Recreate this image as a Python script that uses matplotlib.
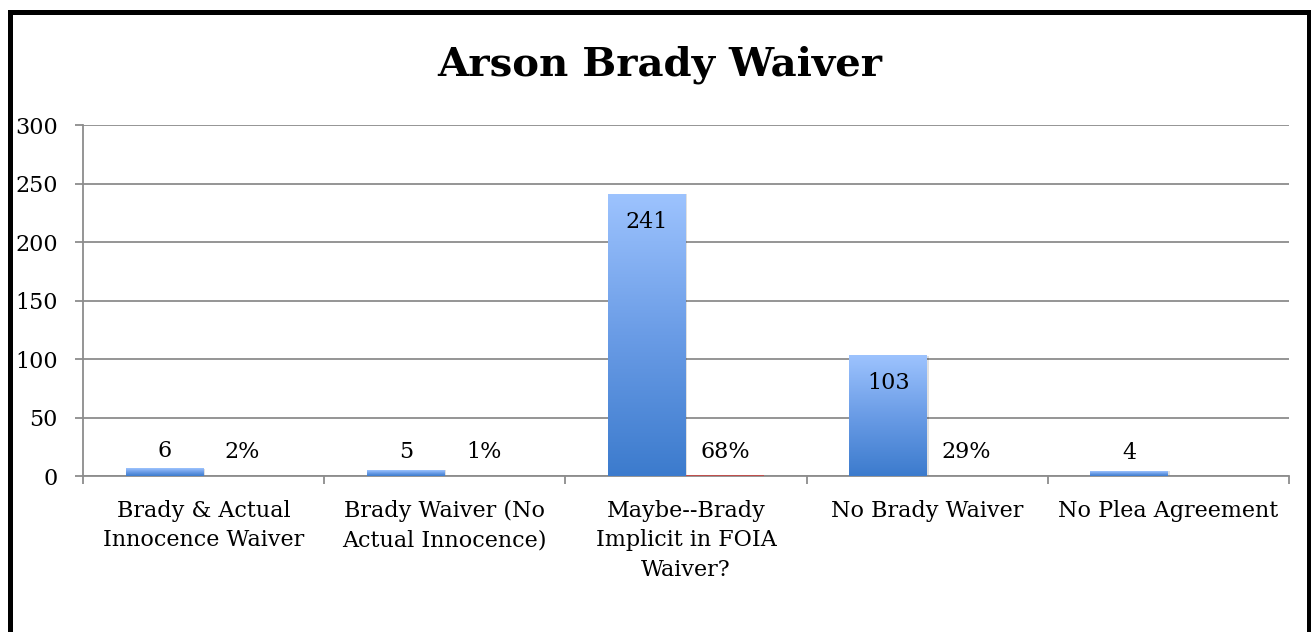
import numpy as np
import matplotlib
matplotlib.use("Agg")
import matplotlib.pyplot as plt
from matplotlib.colors import LinearSegmentedColormap
from matplotlib.patches import Rectangle

# Data
categories = ["Brady & Actual\nInnocence Waiver", "Brady Waiver (No\nActual Innocence)",
              "Maybe--Brady\nImplicit in FOIA\nWaiver?", "No Brady Waiver", "No Plea Agreement"]
counts = [6, 5, 241, 103, 4]
shares = [0.02, 0.01, 0.68, 0.29, None]
title = "Arson Brady Waiver"
yticks = [0, 50, 100, 150, 200, 250, 300]

plt.rcParams['font.family'] = ['DejaVu Serif']
grid_col = '#8c8c8c'

fig = plt.figure(figsize=(13.11, 6.32), dpi=100)
ax = fig.add_axes([0.0633, 0.2468, 0.9199, 0.5554])

x = np.arange(len(categories))
w = 0.323

# gradient-filled columns (light on top, darker at the base)
cmap = LinearSegmentedColormap.from_list("blu", ["#3c7bcd", "#6a9ce6", "#9dc3fe"])
grad = np.linspace(0, 1, 256).reshape(-1, 1)
for xi, v in zip(x, counts):
    ax.add_patch(Rectangle((xi - w + 0.006, 0), w, v, facecolor='#000000', alpha=0.12,
                           edgecolor='none', zorder=2))
    ax.imshow(grad, cmap=cmap, origin='lower', aspect='auto',
              extent=(xi - w, xi, 0, v), zorder=3)

# second series (share), practically flat
pct_vals = [s if s is not None else 0 for s in shares]
ax.bar(x + w / 2, pct_vals, w, color='#c0504d', zorder=3)

# labels
for xi, v in zip(x, counts):
    if v > 30:
        ax.annotate(str(v), (xi - w / 2, v), xytext=(0, -20), textcoords='offset points',
                    ha='center', va='center', fontsize=16, zorder=5)
    else:
        ax.annotate(str(v), (xi - w / 2, v), xytext=(0, 13), textcoords='offset points',
                    ha='center', va='center', fontsize=16, zorder=5)
for xi, s in zip(x, shares):
    if s is None:
        continue
    ax.annotate(f"{s:.0%}", (xi + w / 2, s), xytext=(0, 17), textcoords='offset points',
                ha='center', va='center', fontsize=16, zorder=5)

ax.set_xlim(-0.5, len(categories) - 0.5)
ax.set_ylim(0, 300)
ax.set_yticks(yticks)
ax.set_yticklabels([str(t) for t in yticks], fontsize=16)
ax.set_xticks(x)
ax.set_xticklabels(categories, fontsize=16, linespacing=1.45, va='top')
ax.set_xticks(np.arange(-0.5, len(categories)), minor=True)
ax.tick_params(axis='x', which='major', length=0, pad=17)
ax.tick_params(axis='x', which='minor', length=6, width=1.3, color=grid_col)
ax.tick_params(axis='y', length=6, width=1.3, color=grid_col, pad=12)

ax.yaxis.grid(True, color=grid_col, linewidth=1.3, zorder=0)
ax.set_axisbelow(True)
for s in ['top', 'right']:
    ax.spines[s].set_visible(False)
for s in ['left', 'bottom']:
    ax.spines[s].set_color(grid_col)
    ax.spines[s].set_linewidth(1.3)

fig.text(0.503, 0.8813, title, ha='center', va='baseline', fontsize=29, fontweight='bold')

# outer frame of the chart
fig.patches.append(Rectangle((0.008, -0.05), 0.9905, 0.031 + 1.0, transform=fig.transFigure,
                             fill=False, edgecolor='black', linewidth=3.6))

fig.savefig("out.png", dpi=100)
